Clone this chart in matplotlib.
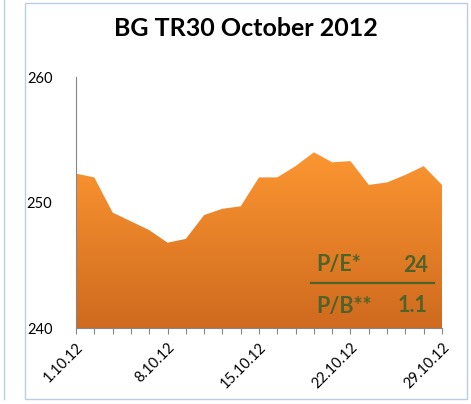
import matplotlib
matplotlib.use("Agg")
import matplotlib.pyplot as plt
import numpy as np
from matplotlib.patches import Rectangle
from matplotlib.lines import Line2D

# data
dates = ['1.10.12', '2.10.12', '3.10.12', '4.10.12', '5.10.12',
         '8.10.12', '9.10.12', '10.10.12', '11.10.12', '12.10.12',
         '15.10.12', '16.10.12', '17.10.12', '18.10.12', '19.10.12',
         '22.10.12', '23.10.12', '24.10.12', '25.10.12', '26.10.12',
         '29.10.12']
values = [252.3, 252.0, 249.2, 248.5, 247.8,
          246.8, 247.1, 249.0, 249.5, 249.7,
          252.0, 252.0, 252.9, 254.0, 253.2,
          253.3, 251.4, 251.6, 252.2, 252.9,
          251.4]
pe_label, pe_value = 'P/E*', '24'
pb_label, pb_value = 'P/B**', '1.1'

plt.rcParams['font.family'] = ['Lato', 'DejaVu Sans']

fig = plt.figure(figsize=(4.71, 4.04), dpi=100)
ax = fig.add_axes([0.1614, 0.1881, 0.777, 0.6213])

x = np.arange(len(values))
ymin, ymax = 240, 260

# gradient area: orange top to darker orange bottom
poly = ax.fill_between(x, values, ymin, color='none', lw=0)
grad = np.linspace(0, 1, 256).reshape(-1, 1)
cmap = matplotlib.colors.LinearSegmentedColormap.from_list(
    'org', ['#FC9631', '#CF6A1F'])
img = ax.imshow(grad, cmap=cmap, aspect='auto',
                extent=[0, len(values) - 1, ymin, max(values)],
                origin='upper', zorder=1)
img.set_clip_path(poly.get_paths()[0], transform=ax.transData)

ax.set_xlim(0, len(values) - 1)
ax.set_ylim(ymin, ymax)
ax.set_yticks([240, 250, 260])
ax.tick_params(axis='y', length=0, pad=17, labelsize=10.5)
ax.set_xticks(x)
ax.set_xticklabels([d if i % 5 == 0 else '' for i, d in enumerate(dates)],
                   rotation=45, ha='right', rotation_mode='anchor', fontsize=10.5)
ax.tick_params(axis='x', direction='out', length=4, color='#868686', pad=5)

for s in ['top', 'right']:
    ax.spines[s].set_visible(False)
for s in ['left', 'bottom']:
    ax.spines[s].set_color('#868686')
    ax.spines[s].set_linewidth(0.8)

fig.text(0.522, 0.93, 'BG TR30 October 2012', ha='center', va='center',
         fontsize=18, fontweight='bold')

# P/E and P/B box
green = '#4F6228'
fig.text(316 / 471, 1 - 265 / 404, pe_label, color=green, fontsize=15.5,
         fontweight='bold', ha='left', va='center')
fig.text(428 / 471, 1 - 265 / 404, pe_value, color=green, fontsize=15.5,
         fontweight='bold', ha='right', va='center')
fig.add_artist(Line2D([311 / 471, 434 / 471], [1 - 283 / 404, 1 - 283 / 404],
                      color=green, lw=1.6))
fig.text(316 / 471, 1 - 306 / 404, pb_label, color=green, fontsize=15.5,
         fontweight='bold', ha='left', va='center')
fig.text(428 / 471, 1 - 306 / 404, pb_value, color=green, fontsize=15.5,
         fontweight='bold', ha='right', va='center')

# chart borders
fig.add_artist(Rectangle((25 / 471, 1 - 399 / 404), 442 / 471, 396 / 404,
                         fill=False, edgecolor='#B9CDE5', lw=1))
fig.add_artist(Line2D([4 / 471, 4 / 471], [1 - 399 / 404, 1], color='#B9CDE5', lw=1))

fig.savefig('out.png', dpi=100)
